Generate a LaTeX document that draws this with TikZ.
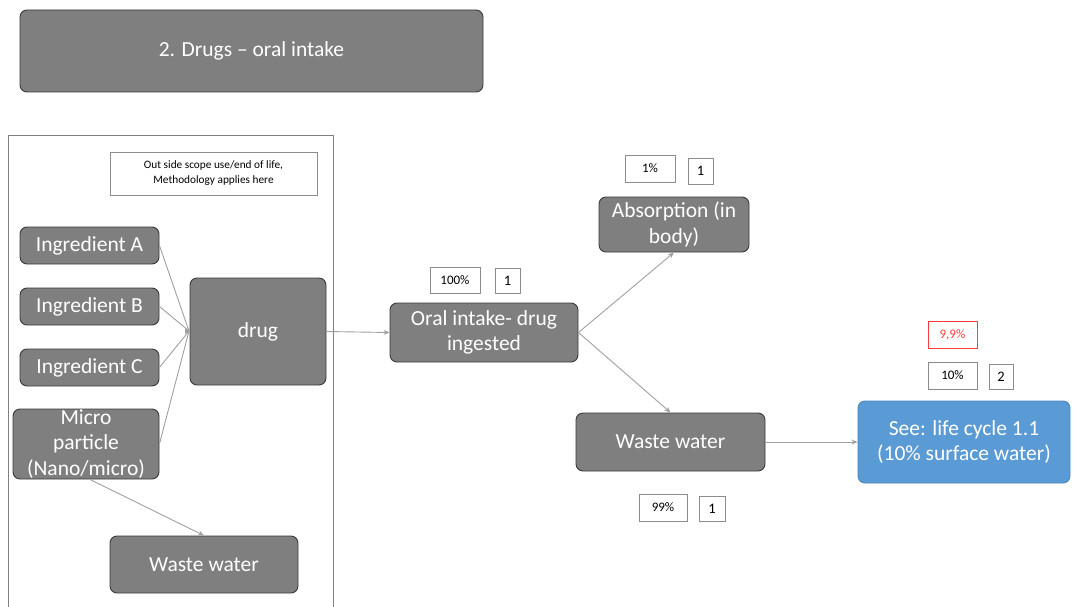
\documentclass[tikz,border=0pt]{standalone}
\usepackage{fontspec}
\setmainfont{Carlito}
\usetikzlibrary{arrows.meta}
\definecolor{boxgray}{HTML}{7F7F7F}
\definecolor{boxedge}{HTML}{3A3A3A}
\definecolor{linegray}{HTML}{A0A0A0}
\definecolor{blueboxfill}{HTML}{5B9BD5}
\definecolor{blueboxedge}{HTML}{4A86BE}
\definecolor{tagred}{HTML}{FF3B3B}
\begin{document}
\begin{tikzpicture}[x=1pt,y=-1pt,
  process/.style={draw=boxedge, line width=0.9pt, fill=boxgray, rounded corners=7pt,
    text=white, font=\fontsize{21.5}{25.5}\selectfont, align=center, inner sep=0pt},
  seebox/.style={process, draw=blueboxedge, fill=blueboxfill},
  tag/.style={draw=black!45, line width=0.8pt, fill=white, inner sep=0pt,
    font=\fontsize{13}{15}\selectfont},
  numtag/.style={tag, font=\fontsize{14.5}{16}\selectfont},
  flow/.style={draw=linegray, line width=0.9pt, -{Stealth[length=6pt,width=5pt]}},
  feed/.style={draw=linegray, line width=0.9pt}
]
\useasboundingbox (0,0) rectangle (1089,607);

% title banner
\node[process, minimum width=463pt, minimum height=82pt] (title) at (251.5,51) {2. Drugs -- oral intake};

% scope frame and its note
\draw[draw=black!50, line width=0.8pt] (8,612) -- (8,135) -- (333,135) -- (333,612);
\node[tag, minimum width=207pt, minimum height=43pt, align=center, font=\fontsize{11.3}{15}\selectfont]
  (note) at (213.5,173.5) {Out side scope use/end of life,\\Methodology applies here};

% inputs and product
\node[process, minimum width=139pt, minimum height=37pt] (ia) at (89.5,245.5) {Ingredient A};
\node[process, minimum width=139pt, minimum height=37pt] (ib) at (89.5,306.5) {Ingredient B};
\node[process, minimum width=139pt, minimum height=37pt] (ic) at (89.5,367.5) {Ingredient C};
\node[process, minimum width=146pt, minimum height=70pt]
  (micro) at (86,444) {Micro\\particle\\(Nano/micro)};
\node[process, minimum width=136pt, minimum height=107pt] (drug) at (258,331.5) {drug};
\node[process, minimum width=188pt, minimum height=57pt] (ww1) at (204,564.5) {Waste water};

% use phase
\node[process, minimum width=188pt, minimum height=59pt] (oral) at (484,332.5) {Oral intake- drug\\ingested};
\node[process, minimum width=150pt, minimum height=55pt] (abs) at (674,224.5) {Absorption (in\\body)};
\node[process, minimum width=189pt, minimum height=58pt] (ww2) at (670.5,442) {Waste water};
\node[seebox, minimum width=212pt, minimum height=82pt] (see) at (964,442) {See: life cycle 1.1\\(10\% surface water)};

% share and count tags
\node[tag, minimum width=50pt, minimum height=26pt] (p100) at (455,280) {100\%};
\node[numtag, minimum width=25pt, minimum height=25pt] (n100) at (507.5,280.5) {1};
\node[tag, minimum width=50pt, minimum height=27pt] (p1) at (650,168.5) {1\%};
\node[numtag, minimum width=25pt, minimum height=26pt] (n1) at (700.5,171) {1};
\node[tag, minimum width=48pt, minimum height=27pt] (p99) at (663,507.5) {99\%};
\node[numtag, minimum width=26pt, minimum height=25pt] (n99) at (712,508.5) {1};
\node[tag, draw=tagred, text=tagred, minimum width=49pt, minimum height=27pt] (p9) at (952.5,334.5) {9,9\%};
\node[tag, minimum width=49pt, minimum height=27pt] (p10) at (952.5,375.5) {10\%};
\node[numtag, minimum width=24pt, minimum height=25pt] (n10) at (1001,376.5) {2};

% connectors
\coordinate (into) at (189,331);
\draw[feed] (ia.east) -- (into);
\draw[feed] (ib.east) -- (into);
\draw[feed] (ic.east) -- (into);
\draw[feed] (micro.east) -- (into);
\fill[linegray] (into) ++(-4,-3) -- (into) -- ++(-4,3) -- cycle;
\draw[flow] (drug.east) -- (oral.west);
\draw[flow] (micro.south) ++(4,0) -- (ww1.north);
\draw[flow] (oral.east) -- (abs.south);
\draw[flow] (oral.east) -- (ww2.north);
\draw[flow] (ww2.east) -- (see.west);
\end{tikzpicture}
\end{document}
